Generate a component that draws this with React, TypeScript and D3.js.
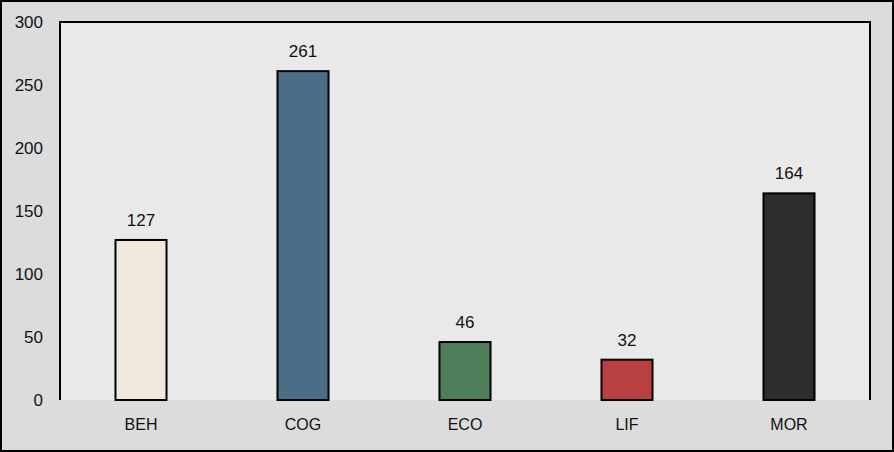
import React, { useEffect } from "react"
import * as d3 from "d3"

const categories = ["BEH", "COG", "ECO", "LIF", "MOR"]
const counts = [127, 261, 46, 32, 164]
const barColors = ["#f0e8dc", "#4a6d88", "#4f7f5a", "#b94040", "#2d2d2b"]
const yTicks = [0, 50, 100, 150, 200, 250, 300]

const W = 894
const H = 452
const plot = { left: 60, top: 22, right: 870, bottom: 400 }
const font = "'Liberation Sans', Arial, sans-serif"

export default function App() {
  useEffect(() => {
    document.body.style.margin = "0"
  }, [])

  const x = d3.scaleBand()
    .domain(categories)
    .range([plot.left, plot.right])
    .paddingInner(0.685)
    .paddingOuter(0.3425)
  const y = d3.scaleLinear().domain([0, 300]).range([plot.bottom, plot.top])

  return (
    <svg width={W} height={H} style={{ display: "block" }} fontFamily={font}>
      {/* outer frame */}
      <rect x={1} y={1} width={W - 2} height={H - 2} fill="#dcdcdc" stroke="#000" strokeWidth={2} />
      {/* plot area */}
      <rect x={plot.left} y={plot.top} width={plot.right - plot.left} height={plot.bottom - plot.top} fill="#e9e9e9" />
      <path
        d={`M${plot.left},${plot.bottom}V${plot.top}H${plot.right}V${plot.bottom}`}
        fill="none" stroke="#000" strokeWidth={2}
      />

      {yTicks.map(t => (
        <text key={t} x={43} y={y(t)} dy="0.35em" textAnchor="end" fontSize={17} fill="#111">{t}</text>
      ))}

      {categories.map((c, i) => (
        <g key={c}>
          <rect
            x={x(c)}
            y={y(counts[i])}
            width={x.bandwidth()}
            height={plot.bottom - y(counts[i])}
            fill={barColors[i]}
            stroke="#000"
            strokeWidth={2}
          />
          <text x={x(c)! + x.bandwidth() / 2} y={y(counts[i]) - 14} textAnchor="middle" fontSize={17} fill="#111">
            {counts[i]}
          </text>
          <text x={x(c)! + x.bandwidth() / 2} y={430} textAnchor="middle" fontSize={16} fill="#111">{c}</text>
        </g>
      ))}
    </svg>
  )
}
